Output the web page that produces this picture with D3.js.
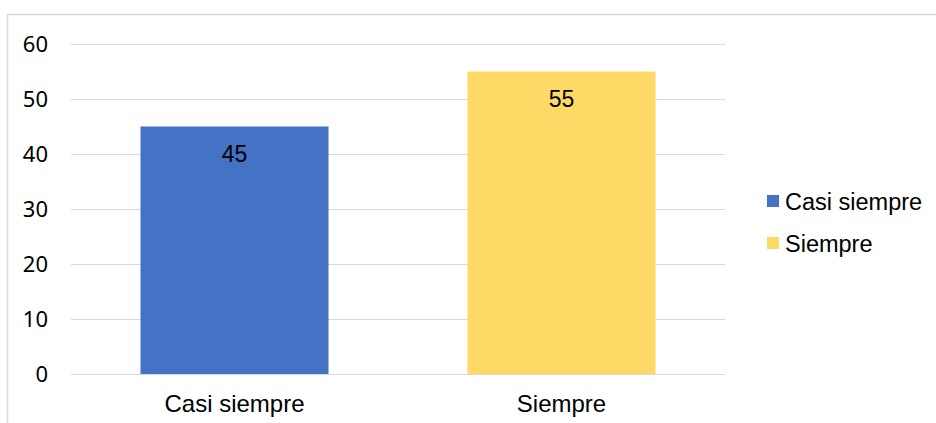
<!DOCTYPE html>
<html>
<head>
<meta charset="utf-8">
<script src="https://cdn.jsdelivr.net/npm/d3@7"></script>
<style>
  body { margin: 0; background: #fff; }
  text { font-family: "Liberation Sans", Arial, sans-serif; fill: #000; }
</style>
</head>
<body>
<script>
var categories = ["Casi siempre", "Siempre"];
var values = [45, 55];
var colors = ["#4472C4", "#FFD966"];
var yTicks = [0, 10, 20, 30, 40, 50, 60];

var width = 936, height = 423;
var margin = {top: 44, right: 211, bottom: 49, left: 71};
var innerW = width - margin.left - margin.right,
    innerH = height - margin.top - margin.bottom;

var svg = d3.select("body").append("svg")
    .attr("width", width)
    .attr("height", height);

// chart border
svg.append("rect")
    .attr("x", 7.5).attr("y", 14.5)
    .attr("width", 940).attr("height", 420)
    .attr("fill", "none")
    .attr("stroke", "#d9d9d9")
    .attr("stroke-width", 1.5);

var g = svg.append("g")
    .attr("transform", "translate(" + margin.left + "," + margin.top + ")");

var x = d3.scaleBand()
    .domain(categories)
    .range([0, innerW])
    .paddingInner(0.425)
    .paddingOuter(0.2125);

var y = d3.scaleLinear()
    .domain([0, 60])
    .range([innerH, 0]);

// gridlines
g.selectAll(".grid")
    .data(yTicks)
  .enter().append("line")
    .attr("x1", 0).attr("x2", innerW)
    .attr("y1", function(d) { return y(d) + 0.5; })
    .attr("y2", function(d) { return y(d) + 0.5; })
    .attr("stroke", "#d9d9d9")
    .attr("stroke-width", 1.2);

var yAxis = d3.axisLeft(y).tickValues(yTicks).tickSize(0).tickPadding(23);
g.append("g")
    .call(yAxis)
    .call(function(s) { s.select(".domain").remove(); })
    .selectAll("text")
    .style("font-family", "'Noto Sans', sans-serif")
    .style("font-size", "22px")
    .attr("dy", "0.36em");

g.selectAll(".bar")
    .data(values)
  .enter().append("rect")
    .attr("x", function(d, i) { return x(categories[i]); })
    .attr("width", x.bandwidth())
    .attr("y", function(d) { return y(d); })
    .attr("height", function(d) { return y(0) - y(d); })
    .attr("fill", function(d, i) { return colors[i]; });

g.selectAll(".val")
    .data(values)
  .enter().append("text")
    .attr("x", function(d, i) { return x(categories[i]) + x.bandwidth() / 2; })
    .attr("y", function(d) { return y(d) + 35.5; })
    .attr("text-anchor", "middle")
    .style("font-size", "23px")
    .text(function(d) { return d; });

var xAxis = d3.axisBottom(x).tickSize(0).tickPadding(0);
g.append("g")
    .attr("transform", "translate(0," + innerH + ")")
    .call(xAxis)
    .call(function(s) { s.select(".domain").remove(); })
    .selectAll("text")
    .attr("y", 38)
    .attr("dy", 0)
    .style("font-size", "24px");

var legend = svg.selectAll(".legend")
    .data(categories)
  .enter().append("g")
    .attr("transform", function(d, i) { return "translate(767," + (195 + i * 42) + ")"; });

legend.append("rect")
    .attr("width", 12).attr("height", 12)
    .attr("fill", function(d, i) { return colors[i]; });

legend.append("text")
    .attr("x", 18).attr("y", 15)
    .style("font-size", "23.5px")
    .text(function(d) { return d; });
</script>
</body>
</html>
